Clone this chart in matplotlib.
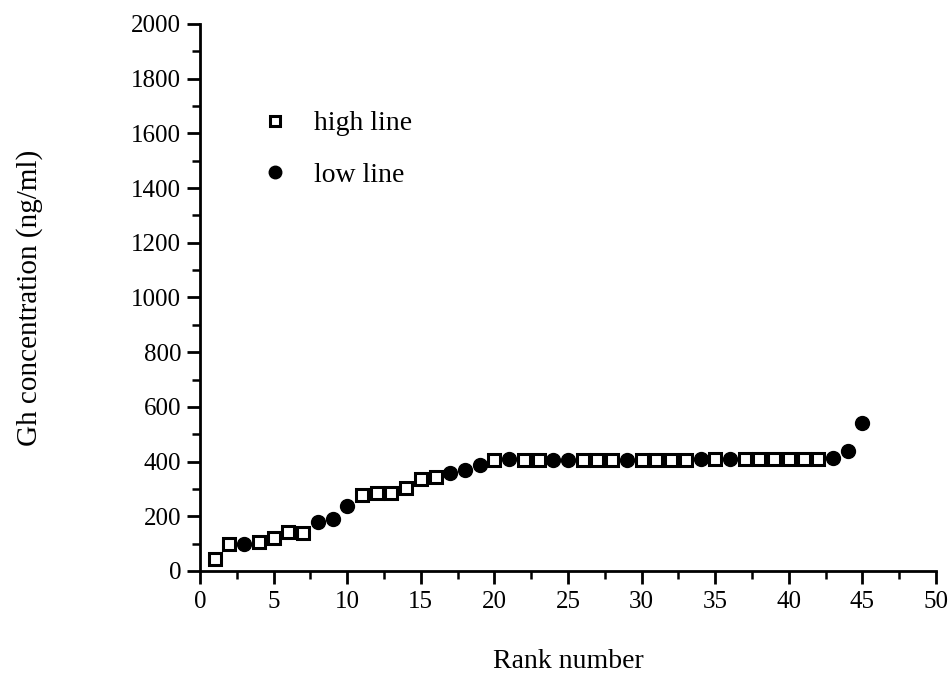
import numpy as np
from matplotlib import pyplot as plt
from matplotlib.ticker import MultipleLocator

# Rank / GH concentration for the two lines
high_rank = [1, 2, 4, 5, 6, 7, 11, 12, 13, 14, 15, 16, 20, 22, 23, 26, 27, 28,
             30, 31, 32, 33, 35, 37, 38, 39, 40, 41, 42]
high_gh = [45, 100, 107, 122, 141, 140, 277, 286, 284, 305, 336, 343, 406, 405,
           405, 405, 405, 405, 405, 405, 405, 405, 408, 410, 408, 408, 410, 410, 410]

low_rank = [3, 8, 9, 10, 17, 18, 19, 21, 24, 25, 29, 34, 36, 43, 44, 45]
low_gh = [100, 178, 190, 238, 358, 368, 388, 408, 406, 406, 406, 408, 408, 413,
          440, 540]

x_ticks = np.arange(0, 51, 5)
y_ticks = np.arange(0, 2001, 200)

plt.rcParams["font.family"] = ["Liberation Serif", "DejaVu Serif"]

fig = plt.figure(figsize=(9.53, 6.82), dpi=100)
ax = fig.add_axes([0.2099, 0.1628, 0.7723, 0.8021])

ax.plot(high_rank, high_gh, "s", ms=8.5, mfc="white", mec="black", mew=2.2,
        clip_on=False, label="high line", zorder=3)
ax.plot(low_rank, low_gh, "o", ms=10, mfc="black", mec="black",
        clip_on=False, label="low line", zorder=3)

ax.set_xlim(0, 50)
ax.set_ylim(0, 2000)
ax.set_xticks(x_ticks)
ax.set_yticks(y_ticks)
ax.xaxis.set_minor_locator(MultipleLocator(2.5))
ax.yaxis.set_minor_locator(MultipleLocator(100))

for s in ["top", "right"]:
    ax.spines[s].set_visible(False)
for s in ["left", "bottom"]:
    ax.spines[s].set_linewidth(2)

ax.tick_params(which="major", length=9.5, width=2, labelsize=18, direction="out")
ax.tick_params(which="minor", length=5.5, width=1.8, direction="out")
ax.tick_params(axis="x", which="major", pad=5)
ax.tick_params(axis="y", which="major", pad=4)

ax.set_xlabel("Rank number", fontsize=20)
ax.set_ylabel("Gh concentration (ng/ml)", fontsize=21, va="center")
ax.xaxis.set_label_coords(0.5, -0.142)
ax.yaxis.set_label_coords(-0.231, 0.5)

ax.legend(loc="upper left", bbox_to_anchor=(0.064, 0.841), frameon=False,
          fontsize=20, borderpad=0, borderaxespad=0, labelspacing=0.94,
          handletextpad=0.4, numpoints=1, markerscale=0.9)

fig.savefig("out.png", dpi=100)
